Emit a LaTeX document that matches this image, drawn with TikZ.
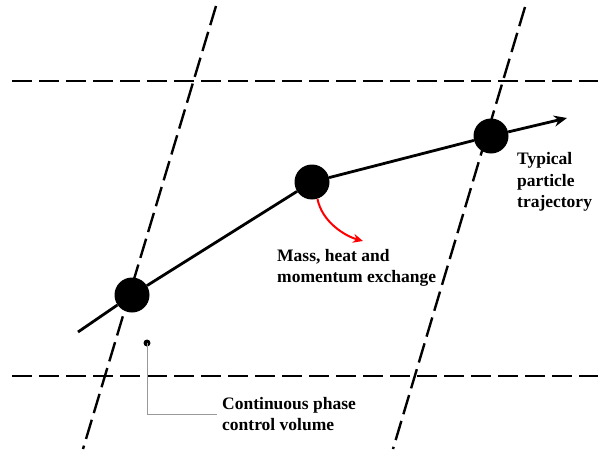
\documentclass[tikz,border=0pt]{standalone}
\usepackage{fontspec}
\setmainfont{Liberation Serif}
\usetikzlibrary{arrows.meta}

\begin{document}
\begin{tikzpicture}[x=1pt, y=-1pt,
  cvline/.style={dash pattern=on 20pt off 7pt, line width=2.4pt},
  particle/.style={circle, fill=black, minimum size=35pt, inner sep=0pt},
  note/.style={font=\bfseries\fontsize{17.5}{21.5}\selectfont, align=left, inner sep=0pt, anchor=west},
  traj/.style={line width=2.8pt},
]
  \useasboundingbox (0,0) rectangle (598,450);
  \draw[cvline] (12,81) -- (598,81);
  \draw[cvline] (12,376) -- (598,376);
  \draw[cvline] (216,6) -- (83,449);
  \draw[cvline] (525,7) -- (393,449);

  \node[particle] (p1) at (132,295) {};
  \node[particle] (p2) at (312,182) {};
  \node[particle] (p3) at (491,136) {};
  \coordinate (start) at (78,332);
  \coordinate (tip) at (567,118);
  \draw[traj] (start) -- (p1) -- (p2) -- (p3);
  \draw[traj, -{Stealth[length=13pt, width=11pt]}] (p3) -- (tip);

  \coordinate (xend) at (363,241);
  \draw[red, line width=2pt, -{Stealth[length=10pt, width=9pt]}] (p2.-72) .. controls (322,222) and (345,236) .. (xend);

  \node[circle, fill=black, minimum size=7pt, inner sep=0pt] (cv) at (147,343) {};
  \node[note] (cvnote) at (222,414) {Continuous phase\\control volume};
  \node[note] (xnote) at (277,268) {Mass, heat and\\momentum exchange};
  \node[note] (tnote) at (517,182) {Typical\\particle\\trajectory};
  \draw[gray!80, line width=0.8pt, shorten >=5pt] (cv.center) |- (cvnote.west);
\end{tikzpicture}
\end{document}
